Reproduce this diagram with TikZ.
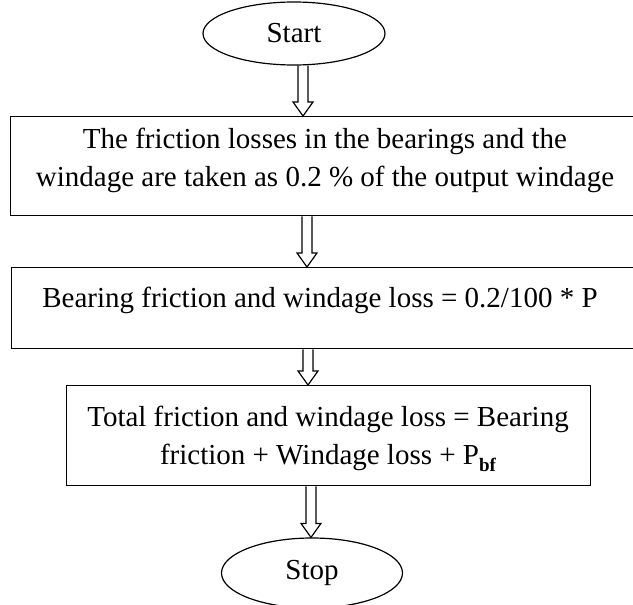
\documentclass[tikz,border=0pt]{standalone}
\usepackage{fontspec}
\setmainfont{Liberation Serif}
\usetikzlibrary{shapes.geometric,calc}
\tikzset{
  every node/.style={font=\fontsize{29}{38}\selectfont},
  flowbox/.style={draw, line width=1.3pt, rectangle, inner sep=0pt, anchor=north west},
  term/.style={draw, line width=1.2pt, ellipse, inner sep=0pt},
  boxtext/.style={align=center, inner sep=0pt},
  harrowline/.style={draw, line width=1.2pt, line join=miter},
}
\newcommand\hollowarrow[3]{%
  \draw[harrowline] let \p1=(#2), \p2=(#3) in
    (#1-5pt,\y1) -- (#1-5pt,\y2+14pt) -- (#1-10pt,\y2+14pt) -- (#1,\y2)
    -- (#1+10pt,\y2+14pt) -- (#1+5pt,\y2+14pt) -- (#1+5pt,\y1);}
\begin{document}
\begin{tikzpicture}[x=1pt,y=-1pt]
\useasboundingbox (0,0) rectangle (633,605);
\clip (0,0) rectangle (633,605);
\fill[white] (0,0) rectangle (633,605);

\node[term, minimum width=182pt, minimum height=63pt] (start) at (294,33.5) {Start};

\node[flowbox, minimum width=690pt, minimum height=99pt] (b1) at (10,116) {};
\node[boxtext] (t1) at (325,160.5) {The friction losses in the bearings and the\\windage are taken as 0.2 \% of the output windage};

\node[flowbox, minimum width=690pt, minimum height=81pt] (b2) at (11,267) {};
\node[boxtext, anchor=base] (t2) at (320,307) {Bearing friction and windage loss = 0.2/100 * P};

\node[flowbox, minimum width=524pt, minimum height=100pt] (b3) at (66,385) {};
\node[boxtext] (t3) at (328,439) {Total friction and windage loss = Bearing\\friction + Windage loss + P\raisebox{-0.22em}{\fontsize{19}{19}\selectfont\bfseries bf}};

\node[term, minimum width=181pt, minimum height=70pt] (stop) at (312,573) {Stop};

\hollowarrow{303pt}{start.south}{b1.north}
\hollowarrow{307pt}{b1.south}{b2.north}
\hollowarrow{308pt}{b2.south}{b3.north}
\hollowarrow{311pt}{b3.south}{stop.north}
\end{tikzpicture}
\end{document}
